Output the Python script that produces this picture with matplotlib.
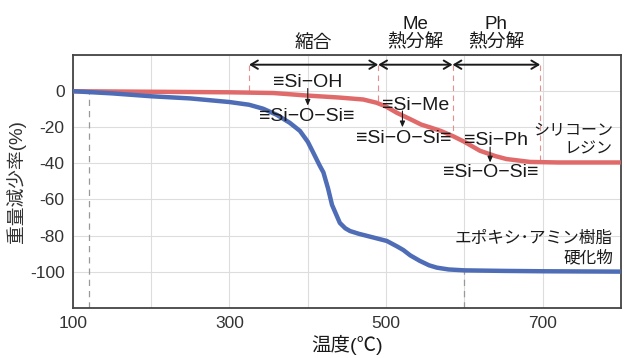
import numpy as np
import matplotlib.pyplot as plt

plt.rcParams['font.family'] = ['Liberation Sans', 'Noto Sans CJK JP', 'DejaVu Sans']
plt.rcParams['axes.unicode_minus'] = False

# エポキシ・アミン樹脂硬化物 (blue)
epoxy_t = [100, 150, 200, 250, 300, 325, 343, 360, 377, 390, 400, 407, 415, 420, 426,
           431, 436, 441, 448, 454, 465, 483, 501, 514, 522, 531, 543, 555, 565, 580,
           600, 650, 700, 800]
epoxy_w = [0, -1.2, -2.8, -4, -6, -7.5, -9.7, -13, -17.5, -22, -28, -34, -41, -45, -54,
           -63, -68, -73, -76, -77.5, -79, -81, -83, -86, -88, -91, -94, -96.5, -97.8, -98.8,
           -99.3, -99.6, -99.8, -100]

# シリコーンレジン (red)
silicone_t = [100, 200, 300, 356, 399, 440, 471, 488, 500, 514, 531, 545, 556, 570, 586,
              600, 620, 640, 654, 684, 720, 800]
silicone_w = [0, -0.3, -0.6, -1, -2.4, -3.5, -4.6, -6.4, -8.5, -12, -15.5, -18.5, -20, -22,
              -25, -28, -33, -36, -37.6, -39.2, -39.5, -39.5]

stage_edges = [325, 490, 585, 697]
stage_labels = ['縮合', 'Me\n熱分解', 'Ph\n熱分解']
xticks = [100, 300, 500, 700]
yticks = [0, -20, -40, -60, -80, -100]

blue = '#4e6db6'
red = '#e06a6a'
txt = '#1a1a1a'

fig = plt.figure(figsize=(6.4, 3.58), dpi=100)
ax = fig.add_axes([0.114, 0.1405, 0.856, 0.7055])

ax.set_xlim(100, 800)
ax.set_ylim(-120, 20)
ax.set_xticks(np.arange(100, 801, 100), minor=True)
ax.set_xticks(xticks)
ax.set_yticks(np.arange(-120, 21, 20), minor=True)
ax.set_yticks(yticks)
ax.grid(True, which='both', color='#dddddd', lw=0.8)
ax.tick_params(which='both', length=0, labelsize=12.5, labelcolor='#333333', pad=6)
for s in ax.spines.values():
    s.set_color('#444444')
    s.set_linewidth(1.3)

ax.plot(silicone_t, silicone_w, color=red, lw=3.2, solid_capstyle='butt', zorder=3)
ax.plot(epoxy_t, epoxy_w, color=blue, lw=3.2, solid_capstyle='butt', zorder=3)

# gray dashed guides
for t in [120, 600]:
    yb = np.interp(t, epoxy_t, epoxy_w)
    ax.plot([t, t], [-120, yb], color='#999999', lw=0.9, ls=(0, (5, 4)), zorder=2)

# red dashed stage borders
arrow_y = 14.7
for t in stage_edges:
    yr = np.interp(t, silicone_t, silicone_w)
    ax.plot([t, t], [arrow_y, yr], color='#e88c8c', lw=0.8, ls=(0, (5, 4)), zorder=2)

for a, b, lab in zip(stage_edges[:-1], stage_edges[1:], stage_labels):
    ax.annotate('', xy=(a, arrow_y), xytext=(b, arrow_y),
                arrowprops=dict(arrowstyle='<->,head_length=0.5,head_width=0.3',
                                lw=1.4, color=txt, shrinkA=0, shrinkB=0))
    ax.text((a + b) / 2, 22, lab, ha='center', va='bottom', fontsize=13.5,
            color=txt, linespacing=1.05)

# reaction labels
def reaction(x_top, y_top, x_bot, y_bot, top, bot, x_arr, y0, y1):
    ax.text(x_top, y_top, top, ha='center', va='center', fontsize=14, color=txt, zorder=4)
    ax.text(x_bot, y_bot, bot, ha='center', va='center', fontsize=14, color=txt, zorder=4)
    ax.annotate('', xy=(x_arr, y1), xytext=(x_arr, y0),
                arrowprops=dict(arrowstyle='-|>,head_length=0.35,head_width=0.15',
                                lw=0.8, color=txt, shrinkA=0, shrinkB=0))

reaction(400, 5, 399, -14, '≡Si−OH', '≡Si−O−Si≡', 400, 1.5, -8)
reaction(538, -7.7, 523, -26, '≡Si−Me', '≡Si−O−Si≡', 521, -11, -20)
reaction(641, -27.5, 634, -45, '≡Si−Ph', '≡Si−O−Si≡', 633, -31, -39.5)

ax.text(790, -27, 'シリコーン\nレジン', ha='right', va='center', fontsize=11.5,
        color=txt, linespacing=1.25)
ax.text(790, -87, 'エポキシ･アミン樹脂\n硬化物', ha='right', va='center', fontsize=12,
        color=txt, linespacing=1.35)

ax.set_xlabel('温度(℃)', fontsize=14, color=txt, labelpad=3)
ax.set_ylabel('重量減少率(%)', fontsize=13.5, color='#333333', labelpad=3)

fig.savefig('out.png', dpi=100)
